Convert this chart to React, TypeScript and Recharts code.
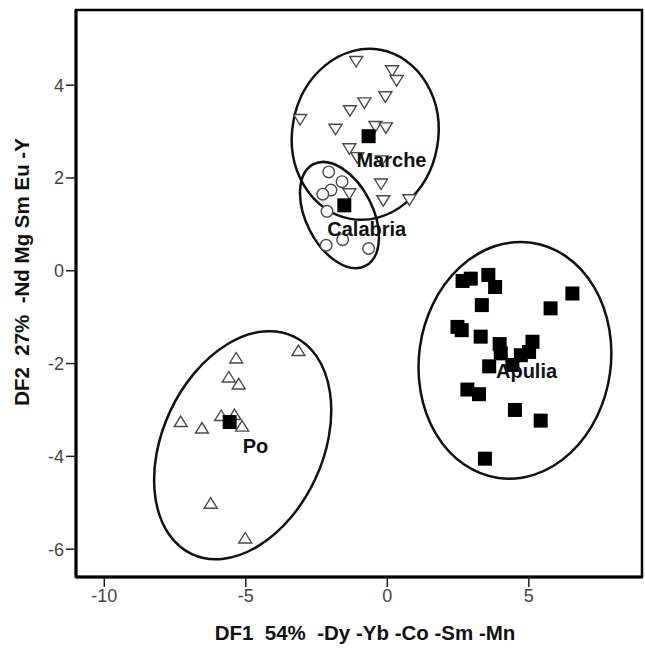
import {
  ScatterChart,
  Scatter,
  XAxis,
  YAxis,
  ReferenceArea,
  ReferenceDot,
  Label,
} from 'recharts'

// discriminant scores
const marche = [
  { x: -1.1, y: 4.52 }, { x: 0.17, y: 4.32 }, { x: 0.33, y: 4.11 }, { x: -0.07, y: 3.76 },
  { x: -0.81, y: 3.63 }, { x: -1.32, y: 3.46 }, { x: -3.08, y: 3.27 }, { x: -1.83, y: 3.06 },
  { x: -0.42, y: 3.12 }, { x: -0.05, y: 3.09 }, { x: -1.34, y: 2.64 }, { x: -1.06, y: 2.45 },
  { x: -0.2, y: 2.38 }, { x: -0.22, y: 1.88 }, { x: -0.14, y: 1.52 }, { x: 0.78, y: 1.54 },
  { x: -1.34, y: 1.67 },
]
const calabria = [
  { x: -2.07, y: 2.13 }, { x: -1.6, y: 1.92 }, { x: -1.99, y: 1.74 }, { x: -2.28, y: 1.65 },
  { x: -2.13, y: 1.28 }, { x: -2.16, y: 0.55 }, { x: -1.58, y: 0.67 }, { x: -0.66, y: 0.48 },
]
const apulia = [
  { x: 2.66, y: -0.22 }, { x: 2.95, y: -0.17 }, { x: 3.57, y: -0.09 }, { x: 3.81, y: -0.35 },
  { x: 3.34, y: -0.74 }, { x: 5.77, y: -0.81 }, { x: 6.54, y: -0.49 }, { x: 2.48, y: -1.21 },
  { x: 2.63, y: -1.28 }, { x: 3.3, y: -1.42 }, { x: 3.97, y: -1.58 }, { x: 4.01, y: -1.78 },
  { x: 5.13, y: -1.53 }, { x: 5.01, y: -1.75 }, { x: 4.72, y: -1.82 }, { x: 4.42, y: -2.03 },
  { x: 3.6, y: -2.06 }, { x: 2.83, y: -2.56 }, { x: 3.24, y: -2.66 }, { x: 4.51, y: -3.0 },
  { x: 5.42, y: -3.23 }, { x: 3.45, y: -4.05 },
]
const po = [
  { x: -5.34, y: -1.89 }, { x: -5.6, y: -2.3 }, { x: -5.25, y: -2.45 }, { x: -3.14, y: -1.73 },
  { x: -7.3, y: -3.26 }, { x: -6.55, y: -3.4 }, { x: -5.87, y: -3.13 }, { x: -5.4, y: -3.11 },
  { x: -5.13, y: -3.36 }, { x: -6.24, y: -5.02 }, { x: -5.02, y: -5.77 },
]
const centroids = [
  { x: -0.66, y: 2.9 }, { x: -1.52, y: 1.41 }, { x: -5.57, y: -3.26 },
]

// group ellipses: centre, semi-axes in data units, tilt in degrees
const ellipses = [
  { x: -0.78, y: 2.94, rx: 2.58, ry: 1.85, tilt: 10 },
  { x: -1.69, y: 1.2, rx: 1.18, ry: 1.23, tilt: -27 },
  { x: 4.51, y: -1.93, rx: 3.39, ry: 2.56, tilt: 8 },
  { x: -5.11, y: -3.76, rx: 2.83, ry: 2.59, tilt: 25 },
]
const groupLabels = [
  { x: -1.09, y: 2.38, name: 'Marche' },
  { x: -2.12, y: 0.9, name: 'Calabria' },
  { x: 3.84, y: -2.16, name: 'Apulia' },
  { x: -5.11, y: -3.78, name: 'Po' },
]

const xDomain: [number, number] = [-11, 9]
const yDomain: [number, number] = [-6.6, 5.62]
const xTicks = [-10, -5, 0, 5]
const yTicks = [-6, -4, -2, 0, 2, 4]
const xTitle = 'DF1  54%  -Dy -Yb -Co -Sm -Mn'
const yTitle = 'DF2  27%  -Nd Mg Sm Eu -Y'

const W = 645
const H = 651
const M = { top: 10, right: 3, bottom: 0, left: 0 }
const Y_W = 76
const X_H = 74
const PX_X = (W - M.left - M.right - Y_W) / (xDomain[1] - xDomain[0])
const PX_Y = (H - M.top - M.bottom - X_H) / (yDomain[1] - yDomain[0])

const FONT = '"Liberation Sans", Arial, sans-serif'
const MARK = '#4a4a4a'
const titleStyle = { fontSize: 20.5, fontWeight: 'bold', fill: '#111', fontFamily: FONT, whiteSpace: 'pre' } as any

const TriDown = (p: any) => {
  const { cx, cy } = p
  return <path d={`M${cx - 6.5},${cy - 4.5}L${cx + 6.5},${cy - 4.5}L${cx},${cy + 6}Z`} fill="#fff" stroke={MARK} strokeWidth={1.4} />
}
const TriUp = (p: any) => {
  const { cx, cy } = p
  return <path d={`M${cx - 6.5},${cy + 4.5}L${cx + 6.5},${cy + 4.5}L${cx},${cy - 6}Z`} fill="#fff" stroke={MARK} strokeWidth={1.4} />
}
const Ring = (p: any) => <circle cx={p.cx} cy={p.cy} r={5.8} fill="#fff" stroke={MARK} strokeWidth={1.4} />
const Square = (p: any) => <rect x={p.cx - 7} y={p.cy - 7} width={14} height={14} fill="#000" />

export default function App() {
  return (
    <div style={{ position: 'absolute', left: 0, top: 0, width: W, height: H, background: '#fff', fontFamily: FONT }}>
      <ScatterChart width={W} height={H} margin={M}>
        <XAxis
          type="number"
          dataKey="x"
          domain={xDomain}
          ticks={xTicks}
          allowDataOverflow
          height={X_H}
          tickSize={10}
          axisLine={{ stroke: '#000', strokeWidth: 3 }}
          tickLine={{ stroke: '#222', strokeWidth: 1.5 }}
          tick={{ fill: '#444', fontSize: 18, fontFamily: FONT }}
        >
          <Label
            content={() => (
              <text x={365} y={640} textAnchor="middle" style={titleStyle}>
                {xTitle}
              </text>
            )}
          />
        </XAxis>
        <YAxis
          type="number"
          dataKey="y"
          domain={yDomain}
          ticks={yTicks}
          allowDataOverflow
          width={Y_W}
          tickSize={10}
          axisLine={{ stroke: '#000', strokeWidth: 3 }}
          tickLine={{ stroke: '#222', strokeWidth: 1.5 }}
          tick={{ fill: '#444', fontSize: 18, fontFamily: FONT }}
        >
          <Label
            content={() => (
              <text
                x={21}
                y={272}
                transform="rotate(-90 21 272)"
                textAnchor="middle"
                dominantBaseline="central"
                style={titleStyle}
              >
                {yTitle}
              </text>
            )}
          />
        </YAxis>
        <ReferenceArea
          x1={xDomain[0]}
          x2={xDomain[1]}
          y1={yDomain[0]}
          y2={yDomain[1]}
          fill="none"
          fillOpacity={0}
          stroke="#000"
          strokeWidth={2.5}
        />
        {ellipses.map((e, i) => (
          <ReferenceDot
            key={'e' + i}
            x={e.x}
            y={e.y}
            ifOverflow="visible"
            shape={(p: any) => (
              <ellipse
                cx={p.cx}
                cy={p.cy}
                rx={e.rx * PX_X}
                ry={e.ry * PX_Y}
                transform={`rotate(${e.tilt} ${p.cx} ${p.cy})`}
                fill="none"
                stroke="#111"
                strokeWidth={2.5}
              />
            )}
          />
        ))}
        <Scatter data={marche} shape={TriDown} isAnimationActive={false} />
        <Scatter data={po} shape={TriUp} isAnimationActive={false} />
        <Scatter data={calabria} shape={Ring} isAnimationActive={false} />
        <Scatter data={apulia} shape={Square} isAnimationActive={false} />
        <Scatter data={centroids} shape={Square} isAnimationActive={false} />
        {groupLabels.map((g) => (
          <ReferenceDot
            key={g.name}
            x={g.x}
            y={g.y}
            ifOverflow="visible"
            shape={(p: any) => (
              <text
                x={p.cx}
                y={p.cy}
                dominantBaseline="central"
                style={{ fontSize: 20, fontWeight: 'bold', fill: '#111', fontFamily: FONT }}
              >
                {g.name}
              </text>
            )}
          />
        ))}
      </ScatterChart>
    </div>
  )
}
